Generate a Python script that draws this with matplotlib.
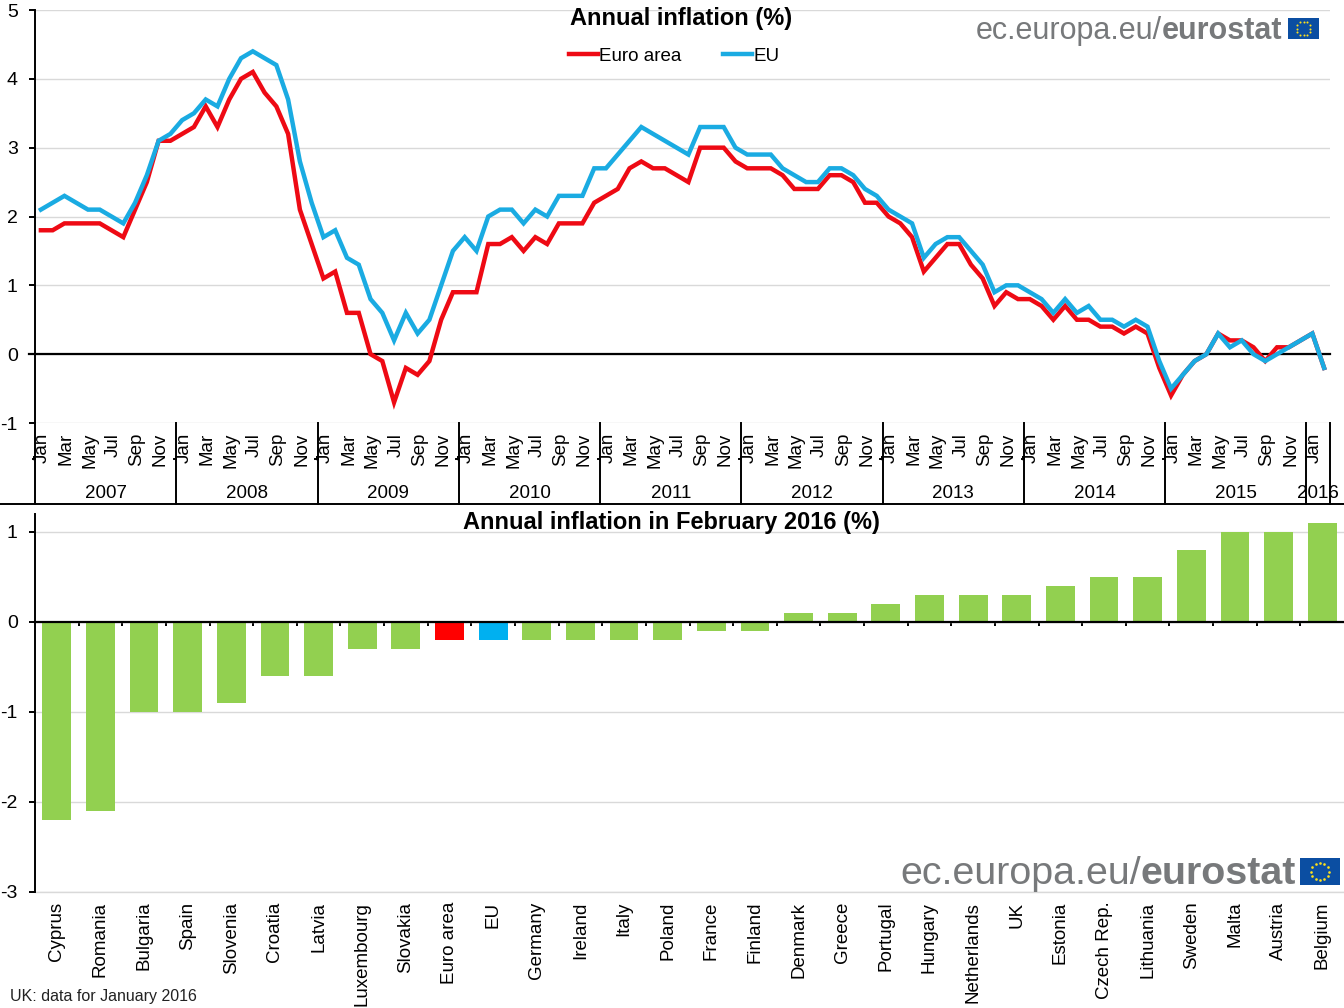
import numpy as np
import matplotlib
matplotlib.use('Agg')
import matplotlib.pyplot as plt
from matplotlib.lines import Line2D
from matplotlib.patches import Rectangle

plt.rcParams['font.family'] = ['Liberation Sans', 'DejaVu Sans']
plt.rcParams['axes.unicode_minus'] = False

# ==============================
# 1. Data
# ==============================
euro_area = [1.8, 1.8, 1.9, 1.9, 1.9, 1.9, 1.8, 1.7, 2.1, 2.5, 3.1, 3.1,
             3.2, 3.3, 3.6, 3.3, 3.7, 4.0, 4.1, 3.8, 3.6, 3.2, 2.1, 1.6,
             1.1, 1.2, 0.6, 0.6, 0.0, -0.1, -0.7, -0.2, -0.3, -0.1, 0.5, 0.9,
             0.9, 0.9, 1.6, 1.6, 1.7, 1.5, 1.7, 1.6, 1.9, 1.9, 1.9, 2.2,
             2.3, 2.4, 2.7, 2.8, 2.7, 2.7, 2.6, 2.5, 3.0, 3.0, 3.0, 2.8,
             2.7, 2.7, 2.7, 2.6, 2.4, 2.4, 2.4, 2.6, 2.6, 2.5, 2.2, 2.2,
             2.0, 1.9, 1.7, 1.2, 1.4, 1.6, 1.6, 1.3, 1.1, 0.7, 0.9, 0.8,
             0.8, 0.7, 0.5, 0.7, 0.5, 0.5, 0.4, 0.4, 0.3, 0.4, 0.3, -0.2,
             -0.6, -0.3, -0.1, 0.0, 0.3, 0.2, 0.2, 0.1, -0.1, 0.1, 0.1, 0.2,
             0.3, -0.2]
eu = [2.1, 2.2, 2.3, 2.2, 2.1, 2.1, 2.0, 1.9, 2.2, 2.6, 3.1, 3.2,
      3.4, 3.5, 3.7, 3.6, 4.0, 4.3, 4.4, 4.3, 4.2, 3.7, 2.8, 2.2,
      1.7, 1.8, 1.4, 1.3, 0.8, 0.6, 0.2, 0.6, 0.3, 0.5, 1.0, 1.5,
      1.7, 1.5, 2.0, 2.1, 2.1, 1.9, 2.1, 2.0, 2.3, 2.3, 2.3, 2.7,
      2.7, 2.9, 3.1, 3.3, 3.2, 3.1, 3.0, 2.9, 3.3, 3.3, 3.3, 3.0,
      2.9, 2.9, 2.9, 2.7, 2.6, 2.5, 2.5, 2.7, 2.7, 2.6, 2.4, 2.3,
      2.1, 2.0, 1.9, 1.4, 1.6, 1.7, 1.7, 1.5, 1.3, 0.9, 1.0, 1.0,
      0.9, 0.8, 0.6, 0.8, 0.6, 0.7, 0.5, 0.5, 0.4, 0.5, 0.4, -0.1,
      -0.5, -0.3, -0.1, 0.0, 0.3, 0.1, 0.2, 0.0, -0.1, 0.0, 0.1, 0.2,
      0.3, -0.2]
month_names = ['Jan', 'Mar', 'May', 'Jul', 'Sep', 'Nov']
years = ['2007', '2008', '2009', '2010', '2011', '2012', '2013', '2014', '2015', '2016']

countries = ['Cyprus', 'Romania', 'Bulgaria', 'Spain', 'Slovenia', 'Croatia', 'Latvia',
             'Luxembourg', 'Slovakia', 'Euro area', 'EU', 'Germany', 'Ireland', 'Italy',
             'Poland', 'France', 'Finland', 'Denmark', 'Greece', 'Portugal', 'Hungary',
             'Netherlands', 'UK', 'Estonia', 'Czech Rep.', 'Lithuania', 'Sweden', 'Malta',
             'Austria', 'Belgium']
feb_2016 = [-2.2, -2.1, -1.0, -1.0, -0.9, -0.6, -0.6, -0.3, -0.3, -0.2, -0.2, -0.2, -0.2, -0.2,
            -0.2, -0.1, -0.1, 0.1, 0.1, 0.2, 0.3, 0.3, 0.3, 0.4, 0.5, 0.5, 0.8, 1.0, 1.0, 1.1]

RED = '#EE0A14'
BLUE = '#1AABE2'
GRID = '#D9D9D9'
W, H = 1344, 1008


def fx(px):
    return px / W


def fy(px):
    return 1 - px / H


def add_axes_px(left, top, right, bottom):
    return fig.add_axes([fx(left), fy(bottom), (right - left) / W, (bottom - top) / H])


def add_logo(split_x, base_y, size, flag_x, flag_y, flag_w, flag_h):
    fig.text(fx(split_x), fy(base_y), 'ec.europa.eu/', color='#77797B', fontsize=size,
             ha='right', va='baseline')
    fig.text(fx(split_x), fy(base_y), 'eurostat', color='#77797B', fontsize=size,
             fontweight='bold', ha='left', va='baseline')
    fig.add_artist(Rectangle((fx(flag_x), fy(flag_y + flag_h)), flag_w / W, flag_h / H,
                             transform=fig.transFigure, color='#0B4EA2', lw=0))
    angles = np.arange(12) * np.pi / 6
    r = flag_h * 0.33
    star_x = flag_x + flag_w / 2 + r * np.cos(angles)
    star_y = flag_y + flag_h / 2 + r * np.sin(angles)
    fig.add_artist(Line2D(fx(star_x), fy(star_y), transform=fig.transFigure, ls='none',
                          marker='o', ms=flag_h * 0.07, color='#FFE11A', mew=0))


fig = plt.figure(figsize=(13.44, 10.08), dpi=100)

# ==============================
# 2. Line chart
# ==============================
ax = add_axes_px(35, 10, 1330, 423)
months = np.arange(len(eu))
ax.plot(months, euro_area, color=RED, lw=3.2, label='Euro area', solid_joinstyle='miter', zorder=3)
ax.plot(months, eu, color=BLUE, lw=3.2, label='EU', solid_joinstyle='miter', zorder=4)
ax.set_xlim(-0.5, 109.5)
ax.set_ylim(-1, 5)
ax.set_yticks(range(-1, 6))
ax.set_xticks([])
ax.grid(axis='y', color=GRID, lw=1)
ax.set_axisbelow(True)
ax.tick_params(axis='y', length=4.5, width=1.4, pad=8, labelsize=14)
for s in ['top', 'right', 'bottom']:
    ax.spines[s].set_visible(False)
ax.spines['left'].set_linewidth(1.4)
ax.plot([-1, 109.5], [0, 0], color='black', lw=1.6, clip_on=False, zorder=2)

# month and year levels of the axis, below the plot area
trans = ax.get_xaxis_transform()
year_edges = list(np.arange(-0.5, 109, 12)) + [109.5]
for edge in year_edges:
    ax.plot([edge, edge], [0, -0.196], color='black', lw=1.4, transform=trans, clip_on=False)
for edge in year_edges[:9]:
    ax.plot([edge - 0.2, edge], [-0.087, -0.087], color='black', lw=1.4, transform=trans,
            clip_on=False)
for i in range(0, len(eu), 2):
    ax.text(i + 0.15, -0.024, month_names[(i % 12) // 2], rotation=90, ha='center', va='top',
            fontsize=13.5, transform=trans)
for i, year in enumerate(years):
    ax.text((year_edges[i] + year_edges[i + 1]) / 2, -0.17, year, ha='center', va='center',
            fontsize=13.5, transform=trans)

fig.add_artist(Line2D([0, 1], [fy(504), fy(504)], color='black', lw=1.4))
ax.legend(loc='center', bbox_to_anchor=(0.4935, 0.888), bbox_transform=ax.transAxes, ncol=2,
          frameon=False, fontsize=13.5, handlelength=1.55, handletextpad=0.08,
          columnspacing=2.2, borderpad=0)
fig.text(fx(681.5), fy(19), 'Annual inflation (%)', fontsize=17, fontweight='bold',
         ha='center', va='center')

# ==============================
# 3. Bar chart
# ==============================
ax2 = add_axes_px(35, 514, 1344, 892)
colors = ['#92D050'] * len(countries)
colors[countries.index('Euro area')] = '#FF0000'
colors[countries.index('EU')] = '#00B0F0'
pos = np.arange(len(countries))
ax2.bar(pos, feb_2016, width=0.66, color=colors, zorder=2)
ax2.set_xlim(-0.5, 29.5)
ax2.set_ylim(-3, 1.2)
ax2.set_yticks([-3, -2, -1, 0, 1])
ax2.set_xticks(pos[:-1] + 0.5)
ax2.set_xticklabels([])
ax2.tick_params(axis='x', length=3, width=1.4)
ax2.tick_params(axis='y', length=4.5, width=1.4, pad=8, labelsize=14)
ax2.spines['bottom'].set_position(('data', 0))
ax2.spines['bottom'].set_linewidth(1.6)
ax2.spines['bottom'].set_zorder(5)
ax2.spines['left'].set_linewidth(1.4)
for s in ['top', 'right']:
    ax2.spines[s].set_visible(False)
ax2.grid(axis='y', color=GRID, lw=1, zorder=1)
ax2.set_axisbelow(True)
ax2.axhline(-3, color=GRID, lw=1, zorder=1, clip_on=False)
for i, name in enumerate(countries):
    ax2.annotate(name, (i, -3), xytext=(0, -7), textcoords='offset points', rotation=90,
                 ha='center', va='top', fontsize=13.5, annotation_clip=False)
fig.text(fx(671.5), fy(523), 'Annual inflation in February 2016 (%)', fontsize=17,
         fontweight='bold', ha='center', va='center')
fig.text(fx(10), fy(1001), 'UK: data for January 2016', fontsize=11.5, ha='left',
         va='baseline', color='#222222')

# ==============================
# 4. Eurostat logos
# ==============================
add_logo(1162, 39, 22, 1288, 18, 31, 21)
add_logo(1141, 884, 28.4, 1300, 858, 40, 27)

fig.savefig('out.png', dpi=100)
